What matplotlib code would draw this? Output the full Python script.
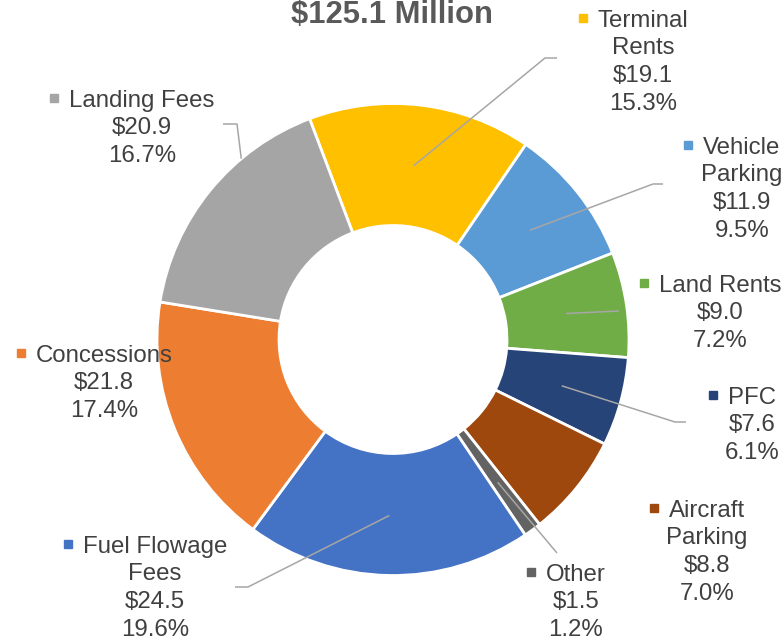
import numpy as np
import matplotlib
matplotlib.use("Agg")
import matplotlib.pyplot as plt

plt.rcParams['font.family'] = ['Liberation Sans', 'DejaVu Sans']

# data, clockwise from the top slice
categories = ["Terminal Rents", "Vehicle Parking", "Land Rents", "PFC", "Aircraft Parking",
              "Other", "Fuel Flowage Fees", "Concessions", "Landing Fees"]
amounts = [19.1, 11.9, 9.0, 7.6, 8.8, 1.5, 24.5, 21.8, 20.9]
shares = [15.3, 9.5, 7.2, 6.1, 7.0, 1.2, 19.6, 17.4, 16.7]
title = "$125.1 Million"

colors = ["#FFC000", "#5B9BD5", "#70AD47", "#264478", "#9E480E",
          "#636363", "#4472C4", "#ED7D31", "#A5A5A5"]

# label layout (pixels from top-left): wrapped name, block centre x, first line y
name_lines = [["Terminal", "Rents"], ["Vehicle", "Parking"], ["Land Rents"], ["PFC"],
              ["Aircraft", "Parking"], ["Other"], ["Fuel Flowage", "Fees"],
              ["Concessions"], ["Landing Fees"]]
label_pos = [(643, 18), (742, 145), (720, 283), (752, 395), (707, 508),
             (576, 572), (155, 544), (104, 353), (142, 98)]

# leader lines: slice index -> (radius, compass angle or None for mid-slice, elbow points)
leaders = {
    0: (175, None, [(545, 58), (557, 58)]),
    1: (175, None, [(653, 184), (663, 184)]),
    2: (175, None, [(619, 311)]),
    3: (175, None, [(675, 422), (686, 422)]),
    5: (177, None, [(557, 553)]),
    6: (176, None, [(248, 587), (235, 587)]),
    8: (236, 320, [(237, 124), (223, 124)]),
}

W, H = 784, 640
cx, cy = 393, H - 339.5
r_out, r_in = 236, 114
fs = 17.3
line_step = 27.7
txt_color = "#404040"

fig = plt.figure(figsize=(W / 100, H / 100), dpi=100)
ax = fig.add_axes([0, 0, 1, 1])

wedges, _ = ax.pie(amounts, colors=colors, startangle=110.7, counterclock=False,
                   radius=r_out, center=(cx, cy),
                   wedgeprops=dict(width=r_out - r_in, edgecolor="white", linewidth=2))
ax.set_xlim(0, W)
ax.set_ylim(0, H)
ax.set_aspect("auto")
ax.axis("off")

# leader lines
for i, (rad, ang, pts) in leaders.items():
    if ang is None:
        mid = np.deg2rad((wedges[i].theta1 + wedges[i].theta2) / 2)
    else:
        mid = np.deg2rad(90 - ang)
    xs = [cx + rad * np.cos(mid)] + [p[0] for p in pts]
    ys = [cy + rad * np.sin(mid)] + [H - p[1] for p in pts]
    ax.plot(xs, ys, color="#A6A6A6", lw=1.1, solid_capstyle="butt")

# labels
cap_half = 0.716 * fs * 100 / 72 / 2
fig.canvas.draw()
renderer = fig.canvas.get_renderer()
for i, cat in enumerate(categories):
    x, y0 = label_pos[i]
    lines = name_lines[i] + [f"${amounts[i]:.1f}", f"{shares[i]:.1f}%"]
    for k, line in enumerate(lines):
        yb = H - (y0 + k * line_step) - cap_half
        t = ax.text(x, yb, line, fontsize=fs, color=txt_color, ha="center", va="baseline")
        if k == 0:
            bb = t.get_window_extent(renderer)
            ax.plot([bb.x0 - 15], [H - y0], marker="s", ms=5.8, color=colors[i],
                    linestyle="none")

ax.text(392, H - 23, title, fontsize=22.3, fontweight="bold", color="#595959",
        ha="center", va="baseline")

fig.savefig("out.png", dpi=100)
